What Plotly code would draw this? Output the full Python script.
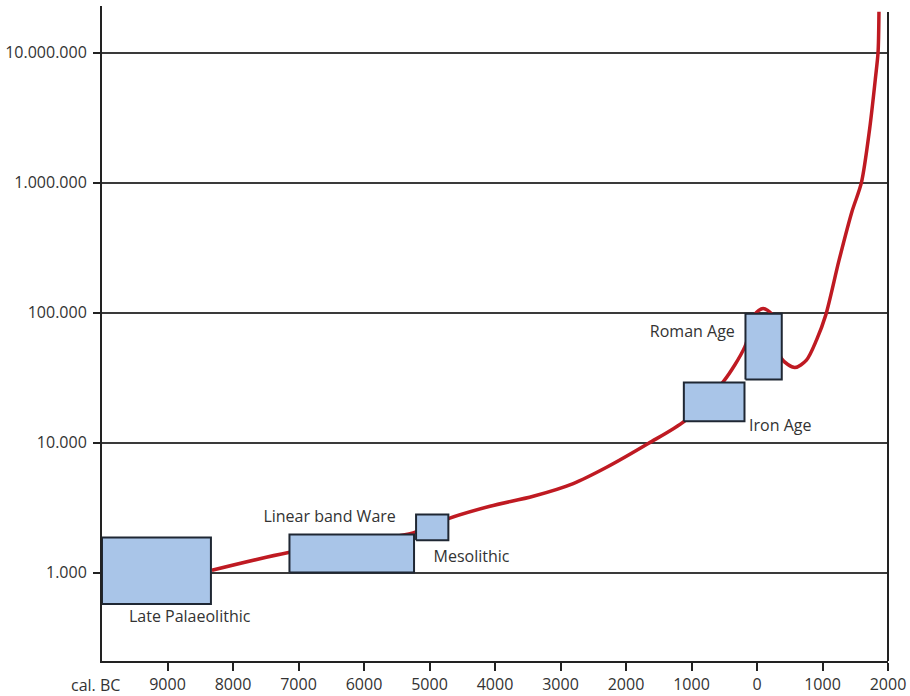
import plotly.graph_objects as go

# Population estimate curve (year, persons); negative years are BC
curve_years = [-8322, -7153, -5251, -4712, -4076, -3416, -2806, -2296, -1661, -1101,
               -517, -186, -34, 93, 230, 373, 577, 755, 908, 1049,
               1250, 1450, 1594, 1720, 1810, 1848, 1862]
curve_values = [1041, 1426, 2018, 2604, 3239, 3868, 4842, 6460, 9840, 14700,
                29300, 54500, 96800, 107700, 96800, 44400, 37800, 43100, 61400, 95700,
                250000, 600000, 1000000, 2600000, 6500000, 10000000, 20700000]

# Period boxes: name, start year, end year, lower value, upper value
periods = ["Late Palaeolithic", "Linear band Ware", "Mesolithic", "Iron Age", "Roman Age"]
period_start = [-10000, -7138, -5205, -1117, -176]
period_end = [-8337, -5236, -4712, -191, 378]
period_low = [573, 1000, 1773, 14610, 30600]
period_high = [1859, 1961, 2796, 29020, 98000]

# Label anchor points for the period names
label_years = [-8661, -6525, -4359, 355, -987]
label_values = [445, 2618, 1288, 13140, 69500]

x_ticks = [-9000, -8000, -7000, -6000, -5000, -4000, -3000, -2000, -1000, 0, 1000, 2000]
x_tick_text = ["9000", "8000", "7000", "6000", "5000", "4000", "3000", "2000", "1000", "0", "1000", "2000"]
y_ticks = [1e3, 1e4, 1e5, 1e6, 1e7]
y_tick_text = ["1.000", "10.000", "100.000", "1.000.000", "10.000.000"]

FONT = "Open Sans"
INK = "#222222"
TEXT = "#333333"

fig = go.Figure()

fig.add_trace(go.Scatter(
    x=curve_years, y=curve_values, mode="lines",
    line=dict(color="#bf1a22", width=3.5, shape="spline", smoothing=0.8),
    hoverinfo="skip", showlegend=False,
))

for name, x0, x1, y0, y1 in zip(periods, period_start, period_end, period_low, period_high):
    fig.add_trace(go.Scatter(
        x=[x0, x1, x1, x0, x0], y=[y0, y0, y1, y1, y0],
        mode="lines", fill="toself", fillcolor="#a9c5e8",
        line=dict(color="#1f2733", width=2),
        name=name, showlegend=False, hoverinfo="skip",
    ))

fig.add_trace(go.Scatter(
    x=label_years, y=label_values, mode="text",
    text=["Late Palaeolithic", "Linear band Ware", "Mesolithic", "Iron Age", "Roman Age"],
    textposition="middle center",
    textfont=dict(family=FONT, size=16, color=TEXT),
    hoverinfo="skip", showlegend=False,
))

fig.update_xaxes(
    range=[-10000, 2000], tickmode="array", tickvals=x_ticks, ticktext=x_tick_text,
    showgrid=False, zeroline=False, showline=True, linecolor=INK, linewidth=2,
    ticks="outside", ticklen=8, tickwidth=2, tickcolor=INK,
    tickfont=dict(family=FONT, size=16, color=TEXT), automargin=False,
)
fig.update_yaxes(
    type="log", range=[2.3195, 7.3595], tickmode="array", tickvals=y_ticks, ticktext=y_tick_text,
    showgrid=True, gridcolor="#3a3a3a", gridwidth=1.6, zeroline=False,
    showline=True, linecolor=INK, linewidth=2,
    ticks="outside", ticklen=7, tickwidth=2, tickcolor=INK,
    tickfont=dict(family=FONT, size=16, color=TEXT), ticklabelstandoff=3, automargin=False,
)

fig.add_shape(type="line", xref="paper", yref="paper", x0=1, x1=1, y0=0, y1=0.991,
              line=dict(color=INK, width=2))

fig.add_annotation(text="cal. BC", xref="paper", yref="paper", x=-0.0085, y=0,
                   xanchor="center", yanchor="middle", yshift=-24, showarrow=False,
                   font=dict(family=FONT, size=16, color=TEXT))

fig.update_layout(
    width=910, height=696,
    margin=dict(l=102, r=22, t=6, b=35),
    paper_bgcolor="white", plot_bgcolor="white",
)

fig.write_html("out.html")
